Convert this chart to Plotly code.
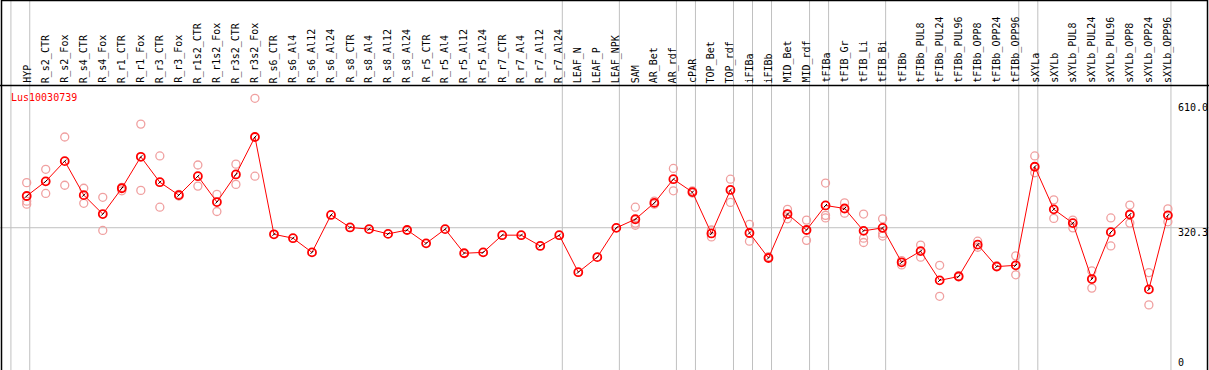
import plotly.graph_objects as go

categories = ["HYP", "R_s2_CTR", "R_s2_Fox", "R_s4_CTR", "R_s4_Fox", "R_r1_CTR", "R_r1_Fox",
              "R_r3_CTR", "R_r3_Fox", "R_r1s2_CTR", "R_r1s2_Fox", "R_r3s2_CTR", "R_r3s2_Fox",
              "R_s6_CTR", "R_s6_Al4", "R_s6_Al12", "R_s6_Al24", "R_s8_CTR", "R_s8_Al4",
              "R_s8_Al12", "R_s8_Al24", "R_r5_CTR", "R_r5_Al4", "R_r5_Al12", "R_r5_Al24",
              "R_r7_CTR", "R_r7_Al4", "R_r7_Al12", "R_r7_Al24", "LEAF_N", "LEAF_P", "LEAF_NPK",
              "SAM", "AR_Bet", "AR_rdf", "cPAR", "TOP_Bet", "TOP_rdf", "iFIBa", "iFIBb",
              "MID_Bet", "MID_rdf", "tFIBa", "tFIB_Gr", "tFIB_Li", "tFIB_Bi", "tFIBb",
              "tFIBb_PUL8", "tFIBb_PUL24", "tFIBb_PUL96", "tFIBb_OPP8", "tFIBb_OPP24",
              "tFIBb_OPP96", "sXYLa", "sXYLb", "sXYLb_PUL8", "sXYLb_PUL24", "sXYLb_PUL96",
              "sXYLb_OPP8", "sXYLb_OPP24", "sXYLb_OPP96"]

mean_values = [394, 428, 475, 396, 352, 412, 485, 426, 396, 440, 380, 444, 531,
               305, 296, 263, 350, 321, 317, 306, 315, 284, 317, 261, 263,
               303, 303, 278, 303, 217, 252, 320,
               340, 378, 433, 403, 307, 408, 308, 250, 352, 315,
               372, 365, 313, 320, 240, 266, 198, 207, 281, 230, 233,
               462, 363, 331, 201, 310, 351, 177, 349]

rep1 = [425, 456, 531, 412, 391, 414, 561, 487, 398, 466, 398, 468, 621,
        None, None, None, None, None, None, None, None, None, None, None, None,
        None, None, None, None, None, None, None,
        368, 382, 458, 406, 315, 433, 328, 253, 363, 338,
        424, 378, 352, 341, 244, 280, 233, 209, 289, 232, 255,
        487, 385, 338, 220, 343, 373, 216, 364]
rep2 = [382, 400, 419, 377, 314, 406, 407, 368, 394, 417, 358, 421, 440,
        None, None, None, None, None, None, None, None, None, None, None, None,
        None, None, None, None, None, None, None,
        331, 375, 406, 401, 299, 379, 289, None, 341, 291,
        349, 354, 296, 307, 234, 252, 161, None, 275, None, 211,
        448, 342, 320, 180, 278, 331, 141, 334]
rep3 = [375, None, None, None, None, None, None, None, None, None, None, None, None,
        None, None, None, None, None, None, None, None, None, None, None, None,
        None, None, None, None, None, None, None,
        326, None, None, None, None, None, None, None, None, None,
        343, None, 286, 301, None, None, None, None, None, None, None,
        None, None, None, None, None, None, None, None]

group_ends = ["HYP", "R_r7_Al24", "LEAF_NPK", "AR_rdf", "cPAR", "TOP_rdf", "iFIBa", "iFIBb",
              "MID_rdf", "tFIBa", "tFIB_Bi", "tFIBb_OPP96", "sXYLa", "sXYLb_OPP96"]

gene_name = "Lus10030739"
y_tick_labels = ["610.0", "320.3", "0"]
y_tick_values = [610.0, 320.3, 0]

W, H = 1209, 370
FONT = "DejaVu Sans Mono"
idx = list(range(len(categories)))
pos = {c: i for i, c in enumerate(categories)}

fig = go.Figure()

rep_color = "#f0a0a0"
for reps in (rep1, rep2, rep3):
    xs = [i for i, v in zip(idx, reps) if v is not None]
    ys = [v for v in reps if v is not None]
    fig.add_trace(go.Scatter(x=xs, y=ys, mode="markers", hoverinfo="skip",
                             marker=dict(symbol="circle-open", size=8, color=rep_color,
                                         line=dict(width=1.3, color=rep_color))))

fig.add_trace(go.Scatter(x=idx, y=mean_values, mode="lines+markers",
                         line=dict(color="#ff0000", width=1),
                         marker=dict(symbol="circle-open", size=8, color="#ff0000",
                                     line=dict(width=1.8, color="#ff0000"))))
fig.add_trace(go.Scatter(x=idx, y=mean_values, mode="markers", hoverinfo="skip",
                         marker=dict(symbol="line-ne", size=3, color="#000000",
                                     line=dict(width=1, color="#000000"))))

shapes = []
grey = "#c0c0c0"
for c in group_ends:
    xg = pos[c] + 0.16
    shapes.append(dict(type="line", xref="x", yref="paper", x0=xg, x1=xg, y0=0, y1=1,
                       line=dict(color=grey, width=1), layer="below"))
shapes.append(dict(type="line", xref="x", yref="paper", x0=-0.83, x1=-0.83, y0=0, y1=1,
                   line=dict(color=grey, width=1), layer="below"))
shapes.append(dict(type="line", xref="paper", yref="y", x0=0, x1=1,
                   y0=y_tick_values[1], y1=y_tick_values[1],
                   line=dict(color=grey, width=1), layer="below"))
shapes.append(dict(type="rect", xref="paper", yref="paper", x0=1.5 / W, x1=1 - 1.5 / W,
                   y0=-0.01, y1=1 - 0.5 / H, line=dict(color="black", width=1.5)))
shapes.append(dict(type="line", xref="paper", yref="paper", x0=0, x1=1,
                   y0=1 - 85.5 / H, y1=1 - 85.5 / H, line=dict(color="black", width=1.5)))

annotations = []
for i, c in enumerate(categories):
    annotations.append(dict(x=i, y=1 - 85 / H, xref="x", yref="paper", text=c,
                            textangle=-90, showarrow=False, xanchor="center", yanchor="bottom",
                            font=dict(family=FONT, size=10, color="black")))
annotations.append(dict(x=9 / W, y=1 - 97 / H, xref="paper", yref="paper", text=gene_name,
                        showarrow=False, xanchor="left", yanchor="middle",
                        font=dict(family=FONT, size=10, color="#ff0000")))
for v, t in zip(y_tick_values, y_tick_labels):
    annotations.append(dict(x=1176 / W, y=v, xref="paper", yref="y", text=t,
                            showarrow=False, xanchor="left",
                            yanchor="bottom" if v == 0 else "top",
                            yshift=-4 if v == 0 else 3,
                            font=dict(family=FONT, size=10, color="black")))

x0 = -26.7 / 19.02
fig.update_layout(
    width=W, height=H, margin=dict(l=0, r=0, t=0, b=0, pad=0),
    paper_bgcolor="white", plot_bgcolor="white", showlegend=False,
    xaxis=dict(range=[x0, x0 + W / 19.02], visible=False, fixedrange=True),
    yaxis=dict(range=[-10.2, 849.3], visible=False, fixedrange=True),
    shapes=shapes, annotations=annotations,
)

fig.write_html("out.html", config={"displayModeBar": False},
               post_script="document.body.style.margin='0';document.body.style.overflow='hidden';")
